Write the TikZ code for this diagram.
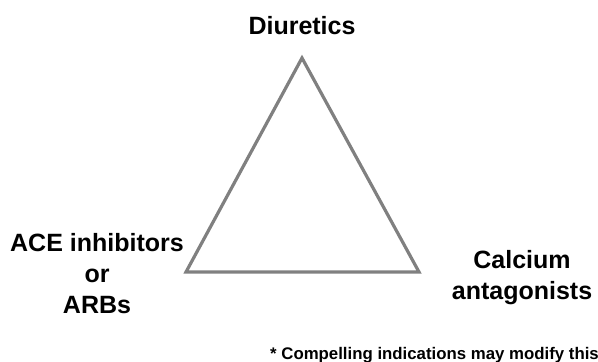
\documentclass[tikz,border=0pt]{standalone}
\usepackage{fontspec}
\setmainfont{Liberation Sans}
\usetikzlibrary{positioning}

\begin{document}
\begin{tikzpicture}[x=1pt,y=-1pt,
    lbl/.style={font=\bfseries\fontsize{25}{31}\selectfont,align=center,inner sep=0pt},
    note/.style={font=\bfseries\fontsize{16.8}{20}\selectfont,inner sep=0pt}]
            \useasboundingbox (0,0) rectangle (598,362);
            \coordinate (top) at (302,58);
            \coordinate (left) at (186,272);
            \coordinate (right) at (419,272);
            \draw[line width=3.2pt,color=black!50] (top) -- (left) -- (right) -- cycle;
            \node[lbl,anchor=base] (diur) at (302,34) {Diuretics};
            \node[lbl,anchor=north] (ace) at (97,233) {ACE inhibitors\\or\\ARBs};
            \node[lbl,anchor=north] (calc) at (522,250) {Calcium\\antagonists};
            \node[note,anchor=base west] (foot) at (270,359) {* Compelling indications may modify this};
        \end{tikzpicture}
\end{document}
